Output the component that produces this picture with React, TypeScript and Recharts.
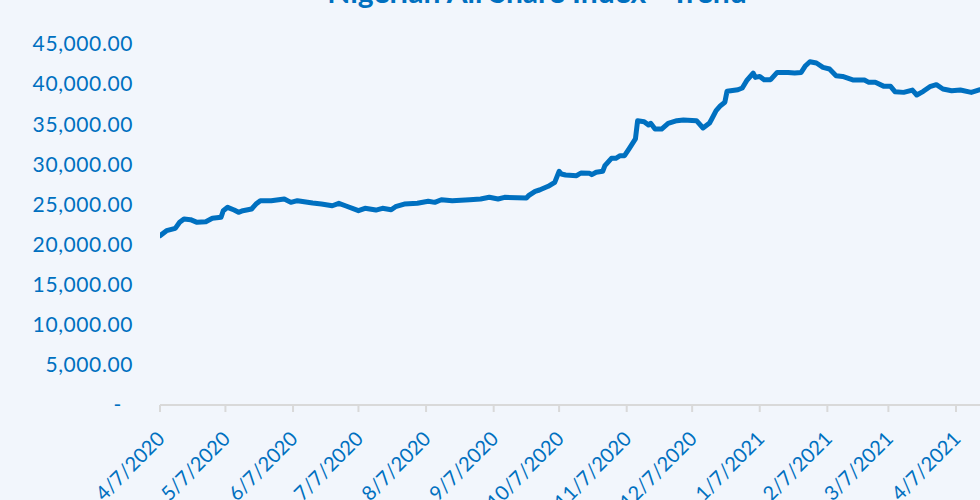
import { LineChart, Line, XAxis, YAxis } from 'recharts'

// trading dates and closing values
const dates = [
  '2020-04-07', '2020-04-10', '2020-04-14', '2020-04-16', '2020-04-18', '2020-04-21', '2020-04-24', '2020-04-28',
  '2020-05-01', '2020-05-05', '2020-05-06', '2020-05-08', '2020-05-11', '2020-05-13', '2020-05-15', '2020-05-19',
  '2020-05-21', '2020-05-23', '2020-05-28', '2020-06-03', '2020-06-06', '2020-06-09', '2020-06-16', '2020-06-20',
  '2020-06-25', '2020-06-28', '2020-07-01', '2020-07-07', '2020-07-10', '2020-07-15', '2020-07-18', '2020-07-22',
  '2020-07-24', '2020-07-28', '2020-08-03', '2020-08-08', '2020-08-11', '2020-08-14', '2020-08-19', '2020-08-27',
  '2020-09-01', '2020-09-05', '2020-09-09', '2020-09-12', '2020-09-22', '2020-09-23', '2020-09-26', '2020-09-28',
  '2020-10-02', '2020-10-05', '2020-10-07', '2020-10-08', '2020-10-10', '2020-10-15', '2020-10-17', '2020-10-21',
  '2020-10-22', '2020-10-24', '2020-10-27', '2020-10-28', '2020-10-31', '2020-11-02', '2020-11-04', '2020-11-06',
  '2020-11-08', '2020-11-11', '2020-11-12', '2020-11-15', '2020-11-17', '2020-11-18', '2020-11-20', '2020-11-23',
  '2020-11-26', '2020-11-30', '2020-12-03', '2020-12-09', '2020-12-12', '2020-12-15', '2020-12-16', '2020-12-18',
  '2020-12-20', '2020-12-22', '2020-12-23', '2020-12-28', '2020-12-30', '2021-01-01', '2021-01-04', '2021-01-05',
  '2021-01-07', '2021-01-09', '2021-01-12', '2021-01-15', '2021-01-20', '2021-01-23', '2021-01-26', '2021-01-28',
  '2021-01-30', '2021-02-02', '2021-02-05', '2021-02-08', '2021-02-11', '2021-02-14', '2021-02-19', '2021-02-24',
  '2021-02-26', '2021-03-01', '2021-03-05', '2021-03-08', '2021-03-10', '2021-03-14', '2021-03-18', '2021-03-20',
  '2021-03-23', '2021-03-26', '2021-03-29', '2021-04-01', '2021-04-05', '2021-04-09', '2021-04-14', '2021-04-18',
]

const values = [
  21100, 21730, 22020, 22770, 23185, 23100, 22770, 22850,
  23270, 23400, 24220, 24640, 24300, 24020, 24220, 24430,
  25050, 25470, 25470, 25680, 25260, 25470, 25180, 25050,
  24840, 25140, 24840, 24220, 24520, 24300, 24520, 24340,
  24720, 25050, 25140, 25390, 25260, 25590, 25470, 25590,
  25680, 25890, 25680, 25890, 25800, 26090, 26630, 26800,
  27260, 27760, 29130, 28800, 28670, 28580, 28920, 28880,
  28710, 29010, 29130, 29830, 30750, 30750, 31080, 31080,
  31910, 33160, 35440, 35320, 34900, 35110, 34400, 34400,
  35110, 35440, 35530, 35440, 34530, 35150, 35650, 36690,
  37310, 37730, 39100, 39300, 39510, 40420, 41380, 40840,
  40960, 40550, 40550, 41460, 41460, 41380, 41460, 42290,
  42790, 42630, 42090, 41880, 41050, 40960, 40510, 40510,
  40220, 40220, 39720, 39720, 39060, 38970, 39260, 38640,
  39100, 39680, 39930, 39390, 39180, 39260, 38970, 39300,
]

const xTicks = [
  '2020-04-07', '2020-05-07', '2020-06-07', '2020-07-07', '2020-08-07', '2020-09-07', '2020-10-07',
  '2020-11-07', '2020-12-07', '2021-01-07', '2021-02-07', '2021-03-07', '2021-04-07',
]
const yTicks = [0, 5000, 10000, 15000, 20000, 25000, 30000, 35000, 40000, 45000]

const blue = '#0070c0'
const font = 'Lato, "Open Sans", sans-serif'

const data = dates.map((d, i) => ({ t: Date.parse(d), value: values[i] }))

const fmtDate = (t: number) => {
  const d = new Date(t)
  return `${d.getUTCMonth() + 1}/${d.getUTCDate()}/${d.getUTCFullYear()}`
}

const fmtNum = (v: number) =>
  v === 0 ? '-' : v.toLocaleString('en-US', { minimumFractionDigits: 2, maximumFractionDigits: 2 })

const YTick = ({ x, y, payload }: any) => (
  <text
    x={payload.value === 0 ? x - 11 : x}
    y={y}
    dy="0.35em"
    textAnchor="end"
    fill={blue}
    fontSize={21}
    letterSpacing={0.6}
    fontFamily={font}
  >
    {fmtNum(payload.value)}
  </text>
)

const XTick = ({ x, y, payload }: any) => (
  <g transform={`translate(${x + 6},${y + 26})`}>
    <text textAnchor="end" transform="rotate(-45)" fill={blue} fontSize={20} fontFamily={font}>
      {fmtDate(payload.value)}
    </text>
  </g>
)

export default function App() {
  return (
    <div
      style={{
        position: 'absolute',
        left: 0,
        top: 0,
        width: 980,
        height: 500,
        overflow: 'hidden',
        background: '#f2f6fc',
      }}
    >
      <div
        style={{
          position: 'absolute',
          top: -24,
          left: 0,
          width: 1074,
          textAlign: 'center',
          color: blue,
          fontFamily: font,
          fontWeight: 700,
          fontSize: 30,
          lineHeight: '30px',
          whiteSpace: 'nowrap',
        }}
      >
        Nigerian All Share Index - Trend
      </div>
      <LineChart width={980} height={500} data={data} margin={{ top: 44, right: 0, bottom: 0, left: 0 }}>
        <XAxis
          dataKey="t"
          type="number"
          scale="time"
          domain={[Date.parse('2020-04-07'), Date.parse('2021-04-18')]}
          ticks={xTicks.map((d) => Date.parse(d))}
          tick={<XTick />}
          height={95}
          interval={0}
          allowDataOverflow
          axisLine={{ stroke: '#d9d9d9', strokeWidth: 2 }}
          tickLine={{ stroke: '#d9d9d9', strokeWidth: 2 }}
          tickSize={7}
        />
        <YAxis
          type="number"
          domain={[0, 45000]}
          ticks={yTicks}
          interval={0}
          width={160}
          axisLine={false}
          tickLine={false}
          tickSize={0}
          tickMargin={27}
          tick={<YTick />}
        />
        <Line
          type="linear"
          dataKey="value"
          stroke={blue}
          strokeWidth={5}
          strokeLinejoin="round"
          strokeLinecap="round"
          dot={false}
          activeDot={false}
          isAnimationActive={false}
        />
      </LineChart>
    </div>
  )
}
